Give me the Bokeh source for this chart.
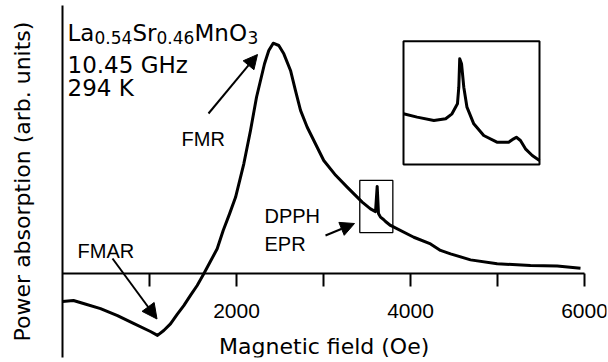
import numpy as np
from bokeh.plotting import figure
from bokeh.models import Range1d, FixedTicker, Arrow, NormalHead, Label
from bokeh.embed import file_html
from bokeh.resources import INLINE

# ---------------- data ----------------
field_oe = [0, 126, 241, 437, 632, 816, 1011, 1092, 1164, 1241, 1318, 1394, 1471, 1548,
            1624, 1701, 1778, 1847, 1920, 1989, 2084, 2161, 2230, 2322, 2371, 2422, 2486,
            2544, 2621, 2678, 2736, 2813, 3003, 3140, 3272, 3445, 3540, 3598, 3617, 3632,
            3655, 3690, 3713, 3770, 4038, 4230, 4345, 4460, 4690, 4996, 5379, 5686, 5954]
absorption = [-0.121, -0.117, -0.130, -0.152, -0.182, -0.216, -0.251, -0.268, -0.247, -0.218,
              -0.177, -0.139, -0.095, -0.052, -0.001, 0.053, 0.107, 0.186, 0.258, 0.330,
              0.475, 0.619, 0.763, 0.908, 0.965, 0.997, 0.987, 0.951, 0.879, 0.792, 0.706,
              0.633, 0.489, 0.425, 0.374, 0.309, 0.280, 0.268, 0.377, 0.260, 0.244, 0.234,
              0.225, 0.208, 0.157, 0.128, 0.100, 0.085, 0.059, 0.042, 0.035, 0.032, 0.023]

major_ticks = [2000, 4000, 6000]
minor_ticks = [1000, 3000, 5000]
tick_labels = ["2000", "4000", "6000"]

# region of the DPPH line marked by the small box (main-plot units)
dpph_box_field = [3417, 3797]
dpph_box_abs = [0.177, 0.403]

# inset: enlarged DPPH region (its own field window and arbitrary signal units)
inset_field = [3490, 3520, 3557, 3583, 3597, 3609, 3612, 3614, 3618, 3623, 3630, 3645,
               3667, 3696, 3722, 3733, 3739, 3748, 3759, 3774, 3790]
inset_signal = [0.411, 0.384, 0.357, 0.371, 0.411, 0.492, 0.627, 0.857, 0.817, 0.627, 0.465,
                0.330, 0.235, 0.181, 0.181, 0.208, 0.221, 0.195, 0.127, 0.073, 0.032]
inset_window_field = [3490, 3790]
inset_window_signal = [0.0, 1.0]

# ---------------- layout ----------------
W, H = 608, 362
FL, FR, FT, FB = 62, 606, 5, 357          # frame edges in page pixels
PX_PER_KOE = 87.0
PX_PER_UNIT = 231.0
ZERO_PY = 273.0
x_start, x_stop = 0.0, (FR - FL) / PX_PER_KOE * 1000.0
y_start, y_stop = (ZERO_PY - FB) / PX_PER_UNIT, (ZERO_PY - FT) / PX_PER_UNIT


def px2x(px):
    return (px - FL) / PX_PER_KOE * 1000.0


def py2y(py):
    return (ZERO_PY - py) / PX_PER_UNIT


p = figure(width=W, height=H, x_range=Range1d(x_start, x_stop), y_range=Range1d(y_start, y_stop),
           x_axis_location=None, y_axis_location="left", toolbar_location=None,
           output_backend="svg", min_border_left=FL, min_border_right=W - FR,
           min_border_top=FT, min_border_bottom=H - FB)
p.outline_line_color = None
p.grid.visible = False
p.background_fill_color = "white"
p.border_fill_color = "white"

TXT = "Liberation Sans"
AX = "DejaVu Sans"

# y axis: plain line + title
ya = p.yaxis[0]
ya.ticker = FixedTicker(ticks=[])
ya.major_tick_out = 0
ya.major_tick_in = 0
ya.minor_tick_out = 0
ya.minor_tick_in = 0
ya.major_label_standoff = 0
ya.major_label_text_font_size = "0px"
ya.axis_line_width = 2
ya.axis_line_color = "black"
ya.axis_label = "Power absorption (arb. units)"
ya.axis_label_text_font = AX
ya.axis_label_text_font_size = "22px"
ya.axis_label_text_font_style = "normal"
ya.axis_label_text_color = "black"
ya.axis_label_standoff = 28

# x axis drawn at zero absorption
p.segment(x0=[x_start], y0=[0], x1=[max(major_ticks)], y1=[0], line_color="black", line_width=2)
tick_len = 13.0 / PX_PER_UNIT
all_ticks = sorted(major_ticks + minor_ticks)
p.segment(x0=all_ticks, y0=[0] * len(all_ticks), x1=all_ticks, y1=[-tick_len] * len(all_ticks),
          line_color="black", line_width=2)
for t, lab_txt in zip(major_ticks, tick_labels):
    p.add_layout(Label(x=t, y=py2y(310), text=lab_txt, text_font=TXT, text_font_size="21px",
                       text_align="center", text_baseline="alphabetic", text_color="black"))
p.add_layout(Label(x=px2x(323.7), y=py2y(346), text="Magnetic field (Oe)", text_font=AX,
                   text_font_size="22px", text_align="center", text_baseline="alphabetic",
                   text_color="black"))

# main spectrum
p.line(field_oe, absorption, line_color="black", line_width=3, line_join="round")

# small box around DPPH line
p.quad(left=[dpph_box_field[0]], right=[dpph_box_field[1]], bottom=[dpph_box_abs[0]],
       top=[dpph_box_abs[1]], fill_color=None, line_color="black", line_width=1.3)

# inset with its own ranges, placed in the upper right
IL, IR, IT, IB = 403.0, 539.0, 40.7, 164.0
sx = (IR - IL) / (inset_window_field[1] - inset_window_field[0])
sy = (IB - IT) / (inset_window_signal[1] - inset_window_signal[0])
p.extra_x_ranges = {"inset_x": Range1d(inset_window_field[0] - (IL - FL) / sx,
                                       inset_window_field[1] + (FR - IR) / sx)}
p.extra_y_ranges = {"inset_y": Range1d(inset_window_signal[0] - (FB - IB) / sy,
                                       inset_window_signal[1] + (IT - FT) / sy)}
p.quad(left=[inset_window_field[0]], right=[inset_window_field[1]],
       bottom=[inset_window_signal[0]], top=[inset_window_signal[1]],
       fill_color=None, line_color="black", line_width=2,
       x_range_name="inset_x", y_range_name="inset_y")
p.line(inset_field, inset_signal, line_color="black", line_width=3, line_join="round",
       x_range_name="inset_x", y_range_name="inset_y")

# text block
def lab(px, py, text, size, font=TXT):
    p.add_layout(Label(x=px2x(px), y=py2y(py), text=text, text_font=font,
                       text_font_size=size, text_align="left", text_baseline="alphabetic",
                       text_color="black"))

lab(67, 32, "La", "23px", AX)
lab(94, 37, "0.54", "17px", AX)
lab(132, 32, "Sr", "23px", AX)
lab(156, 37, "0.46", "17px", AX)
lab(194, 32, "MnO", "23px", AX)
lab(247, 37, "3", "17px", AX)
lab(67, 64.5, "10.45 GHz", "23px", AX)
lab(67, 87, "294 K", "23px", AX)

# annotations
lab(181, 138, "FMR", "20px")
lab(264, 215, "DPPH", "20px")
lab(264, 243, "EPR", "20px")
lab(77, 250, "FMAR", "20px")

def arrow(p0, p1, size):
    p.add_layout(Arrow(end=NormalHead(size=size, fill_color="black", line_color="black",
                                      line_width=1),
                       x_start=px2x(p0[0]), y_start=py2y(p0[1]),
                       x_end=px2x(p1[0]), y_end=py2y(p1[1]),
                       line_color="black", line_width=2))

arrow((208, 113), (257, 54), 14)
arrow((325, 235), (354, 223), 14)
arrow((112, 258), (156.5, 318.5), 15)

open("out.html", "w").write(file_html(p, INLINE))
